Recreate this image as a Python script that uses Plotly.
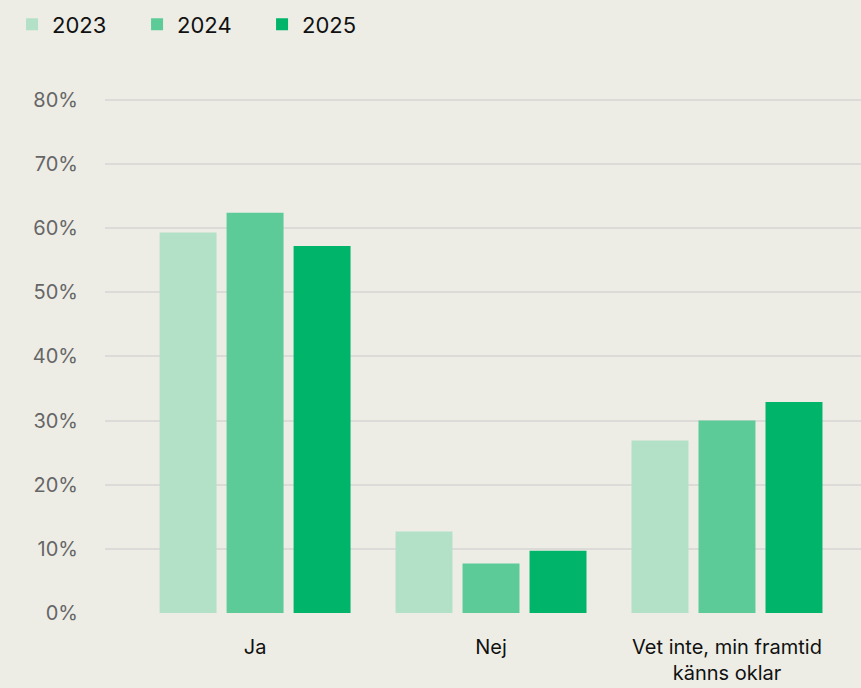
import plotly.graph_objects as go

# Answer categories and yearly shares (%)
categories = ['Ja', 'Nej', 'Vet inte, min framtid<br>känns oklar']
years = ['2023', '2024', '2025']
values_2023 = [59.3, 12.7, 26.9]
values_2024 = [62.4, 7.7, 30.0]
values_2025 = [57.2, 9.7, 32.9]
y_ticks = [0, 10, 20, 30, 40, 50, 60, 70, 80]

colors = ['#b3e1c8', '#5ccb98', '#00b56a']
series = [values_2023, values_2024, values_2025]

fig = go.Figure()
for year, vals, col in zip(years, series, colors):
    fig.add_trace(go.Bar(
        x=categories,
        y=vals,
        name=year,
        marker=dict(color=col, line=dict(width=0)),
    ))

fig.update_layout(
    width=861,
    height=688,
    barmode='group',
    bargap=0.148,
    bargroupgap=0.15,
    paper_bgcolor='#edede6',
    plot_bgcolor='#edede6',
    font=dict(family='Inter, sans-serif', size=20, color='#111111'),
    margin=dict(l=105, r=0, t=87, b=75),
    legend=dict(
        orientation='h',
        xref='container', yref='container',
        x=0.014, y=0.995,
        xanchor='left', yanchor='top',
        font=dict(size=22, color='#111111'),
        entrywidth=80,
        entrywidthmode='pixels',
        itemwidth=30,
        traceorder='normal',
    ),
    xaxis=dict(
        range=[-0.636, 2.568],
        showgrid=False,
        showline=False,
        zeroline=False,
        ticks='',
        ticklabelstandoff=20,
        tickfont=dict(size=20, color='#111111'),
    ),
    yaxis=dict(
        range=[0, 82],
        tickmode='array',
        tickvals=y_ticks,
        ticktext=[f'{t}%' for t in y_ticks],
        showgrid=True,
        gridcolor='#dcdbd8',
        gridwidth=2,
        zeroline=False,
        showline=False,
        ticks='',
        ticklabelstandoff=26,
        tickfont=dict(size=20, color='#666666'),
    ),
)

fig.write_html('out.html', config={'displayModeBar': False},
               post_script="document.body.style.margin='0';")
